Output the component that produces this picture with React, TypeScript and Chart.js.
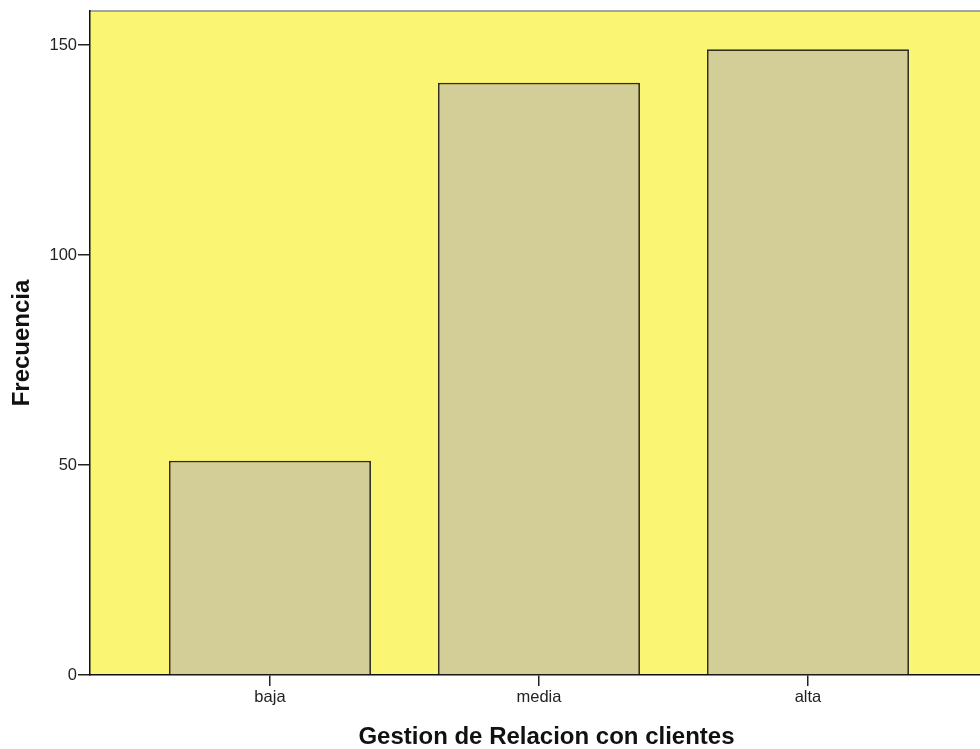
import React, { useEffect, useRef } from "react";
import { Chart, registerables } from "chart.js";

Chart.register(...registerables);

const categories: string[] = ["baja", "media", "alta"];
const frequencies: number[] = [51, 141, 149];
const yTicks: number[] = [0, 50, 100, 150];

const xTitle = "Gestion de Relacion con clientes";
const yTitle = "Frecuencia";

const FONT = "'Liberation Sans', Arial, sans-serif";

const plotBackground = {
  id: "plotBackground",
  beforeDraw(chart: any) {
    const { ctx, chartArea } = chart;
    if (!chartArea) return;
    ctx.save();
    ctx.fillStyle = "#FAF573";
    ctx.fillRect(chartArea.left, chartArea.top, chartArea.right - chartArea.left, chartArea.bottom - chartArea.top);
    ctx.strokeStyle = "#8a8a8a";
    ctx.lineWidth = 1.5;
    ctx.beginPath();
    ctx.moveTo(chartArea.left, chartArea.top);
    ctx.lineTo(chartArea.right, chartArea.top);
    ctx.stroke();
    ctx.restore();
  },
};

export default function App() {
  const canvasRef = useRef<HTMLCanvasElement | null>(null);

  useEffect(() => {
    document.body.style.margin = "0";
    document.body.style.overflow = "hidden";
    const canvas = canvasRef.current;
    if (!canvas) return;

    const chart = new Chart(canvas, {
      type: "bar",
      data: {
        datasets: [
          {
            label: yTitle,
            data: frequencies.map((v, i) => ({ x: i, y: v })),
            backgroundColor: "#D3CE97",
            borderColor: "#2e2e26",
            borderWidth: 1.75,
            categoryPercentage: 1,
            barPercentage: 0.751,
          },
        ],
      },
      plugins: [plotBackground],
      options: {
        responsive: false,
        animation: false,
        layout: { padding: { top: 11, right: 12, left: 0, bottom: 0 } },
        plugins: {
          legend: { display: false },
          tooltip: { enabled: false },
        },
        scales: {
          x: {
            type: "linear",
            offset: false,
            min: -0.669,
            max: 2.725,
            afterBuildTicks: (scale: any) => {
              scale.ticks = categories.map((_, i) => ({ value: i }));
            },
            afterFit: (scale: any) => {
              scale.height = 74;
            },
            ticks: {
              callback: (v: any) => categories[v as number] ?? "",
              font: { family: FONT, size: 16.5 },
              color: "#222",
              padding: 2,
              maxRotation: 0,
              autoSkip: false,
            },
            grid: {
              offset: false,
              drawOnChartArea: false,
              drawTicks: true,
              tickLength: 11,
              color: "#222",
              lineWidth: 1.5,
            },
            border: { display: true, color: "#111", width: 1.5 },
            title: {
              display: true,
              text: xTitle,
              font: { family: FONT, size: 24, weight: "bold", lineHeight: 1 },
              color: "#111",
              padding: { top: 0, bottom: 0 },
            },
          },
          y: {
            min: 0,
            max: 158.1,
            afterBuildTicks: (scale: any) => {
              scale.ticks = yTicks.map((v) => ({ value: v }));
            },
            afterFit: (scale: any) => {
              scale.width = 90;
            },
            ticks: {
              font: { family: FONT, size: 16.5 },
              color: "#222",
              padding: 1,
            },
            grid: {
              drawOnChartArea: false,
              drawTicks: true,
              tickLength: 12,
              color: "#222",
              lineWidth: 1.5,
            },
            border: { display: true, color: "#111", width: 1.5 },
            title: {
              display: true,
              text: yTitle,
              font: { family: FONT, size: 24, weight: "bold", lineHeight: 1 },
              color: "#111",
              padding: { top: 10, bottom: 0 },
            },
          },
        },
      },
    });

    return () => chart.destroy();
  }, []);

  return (
    <div style={{ position: "fixed", left: 0, top: 0, width: 1015, height: 749, background: "#fff" }}>
      <canvas ref={canvasRef} width={1015} height={749} style={{ width: 1015, height: 749, display: "block" }} />
    </div>
  );
}
